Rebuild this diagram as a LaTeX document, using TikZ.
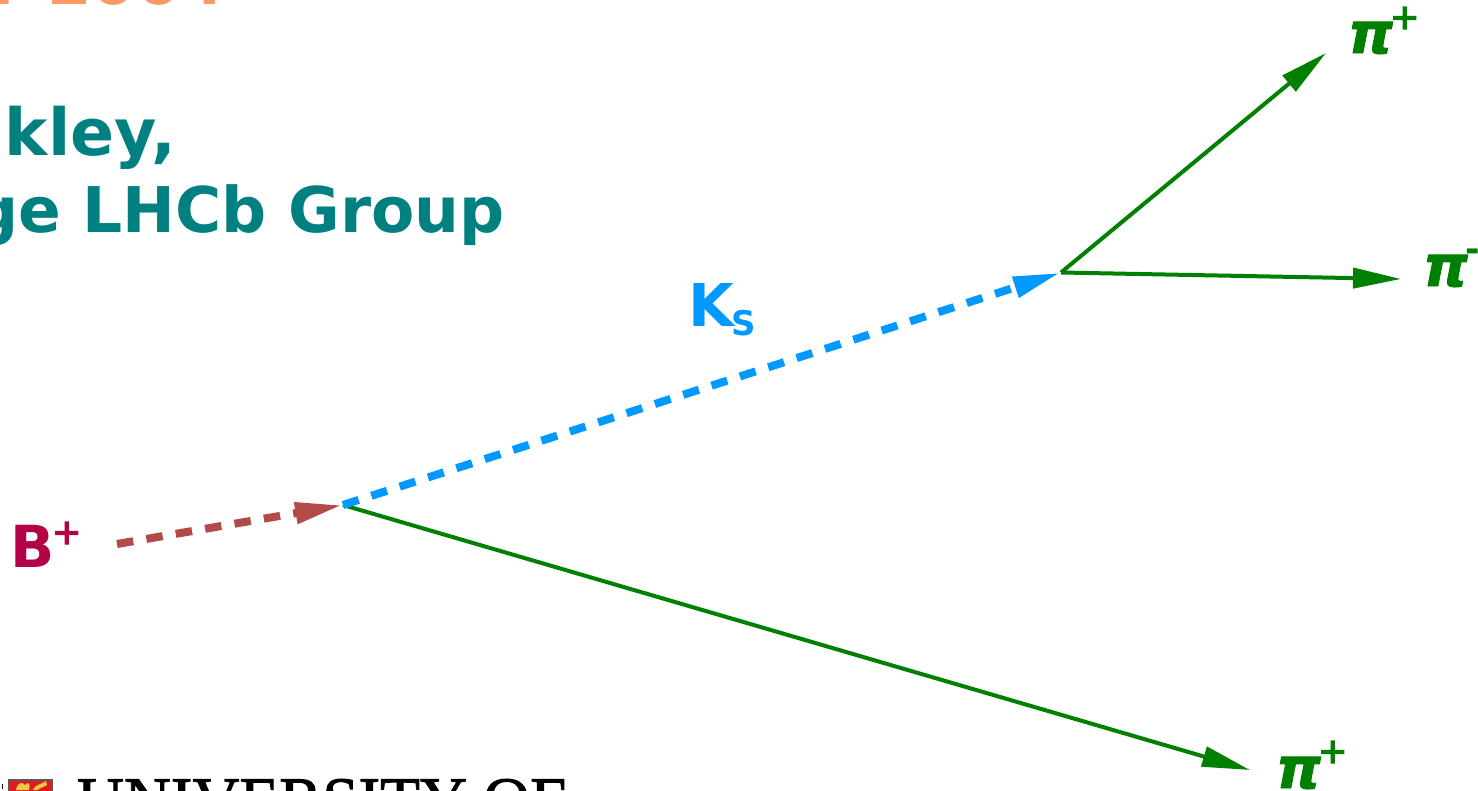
\documentclass[tikz,border=0pt]{standalone}
\usepackage{fontspec}
\setmainfont{DejaVu Sans}
\newfontfamily\serifbold[FakeBold=1.5]{Liberation Serif}
\newfontfamily\heavy[FakeBold=4]{DejaVu Sans}
\newfontfamily\heavypi[FakeBold=1.5]{DejaVu Sans Bold Oblique}
\usetikzlibrary{arrows.meta}
\definecolor{trackgreen}{RGB}{0,128,0}
\definecolor{kaonblue}{RGB}{0,153,255}
\definecolor{bmeson}{RGB}{179,74,74}
\definecolor{blabel}{RGB}{179,0,71}
\definecolor{titleteal}{RGB}{0,128,128}
\definecolor{dateorange}{RGB}{255,153,102}
\definecolor{crestred}{RGB}{225,25,35}
\definecolor{crestgold}{RGB}{240,200,60}
\newcommand{\pxfont}[1]{\fontsize{#1pt}{#1pt}\selectfont}
\tikzset{
  x=1pt,y=-1pt,
  txt/.style={inner sep=0pt,outer sep=0pt,anchor=base west},
  bigbold/.style={txt,text=titleteal},
  track/.style={draw=trackgreen,line width=4pt,-{Triangle[length=48pt,width=20pt]}},
  meson/.style={line width=8pt,dash pattern=on 16.5pt off 13.3pt,-{Triangle[length=48pt,width=20pt]}},
  pion/.style={txt,text=trackgreen,font=\pxfont{57}\heavypi},
  charge/.style={txt,text=trackgreen,font=\pxfont{35}\heavy},
}
\begin{document}
\begin{tikzpicture}
\useasboundingbox (0,0) rectangle (1478,790);
\clip (0,0) rectangle (1478,790);
% clipped slide text
\node[txt,font=\pxfont{64}\bfseries,text=dateorange] (date) at (-8,4) {r};
\node[txt,font=\pxfont{64}\bfseries,text=dateorange] (year) at (47,4) {2004};
\node[bigbold,font=\pxfont{65}\bfseries] (t1) at (5,155) {kley,};
\node[bigbold,font=\pxfont{63}\bfseries] (t2) at (-27,232) {ge LHCb Group};
% crest and university name
\node[fill=white,minimum width=8pt,minimum height=14pt,inner sep=0pt,anchor=north west] (crestw) at (0,778) {};
\node[draw=black!65,fill=crestred,minimum width=43pt,minimum height=20pt,inner sep=0pt,anchor=north west,line width=1.5pt] (crest) at (8,779) {};
\fill[crestgold] (16,790) .. controls (17,783) and (22,781) .. (25,785) .. controls (28,781) and (31,784) .. (29,790) -- cycle;
\fill[crestgold] (33,790) .. controls (35,784) and (41,785) .. (46,781) -- (47,785) .. controls (42,788) and (39,788) .. (38,790) -- cycle;
\fill[black] (1.5,784) rectangle (2.5,789);
\node[txt,font=\serifbold\pxfont{65},text=black] (uni) at (77,822) {UNIVERSITY OF};
% vertices and free ends
\coordinate (start) at (117,544);
\coordinate (v1) at (343,505);
\coordinate (v2) at (1061,272.5);
\coordinate (e1) at (1326,53);
\coordinate (e2) at (1401,279);
\coordinate (e3) at (1250,770);
% tracks
\draw[track] (v2) -- (e1);
\draw[track] (v2) -- (e2);
\draw[track] (v1) -- (e3);
\draw[meson,draw=bmeson] (start) -- (v1);
\draw[meson,draw=kaonblue] (v1) -- (v2);
% labels
\node[txt,text=blabel,font=\pxfont{58}\bfseries] (B) at (10,567) {B};
\node[txt,text=blabel,font=\pxfont{35}\heavy] (Bp) at (52,544) {+};
\node[txt,text=kaonblue,font=\pxfont{59}\bfseries] (K) at (688,326) {K};
\node[txt,text=kaonblue,font=\pxfont{34}\bfseries] (S) at (731,335) {S};
\node[pion] (p1) at (1348,53) {π};
\node[charge] (p1c) at (1390,29) {+};
\node[pion] (p2) at (1423,286) {π};
\node[charge,font=\pxfont{35}\bfseries] (p2c) at (1465,261) {-};
\node[pion] (p3) at (1276,788) {π};
\node[charge] (p3c) at (1318,763) {+};
\end{tikzpicture}
\end{document}
